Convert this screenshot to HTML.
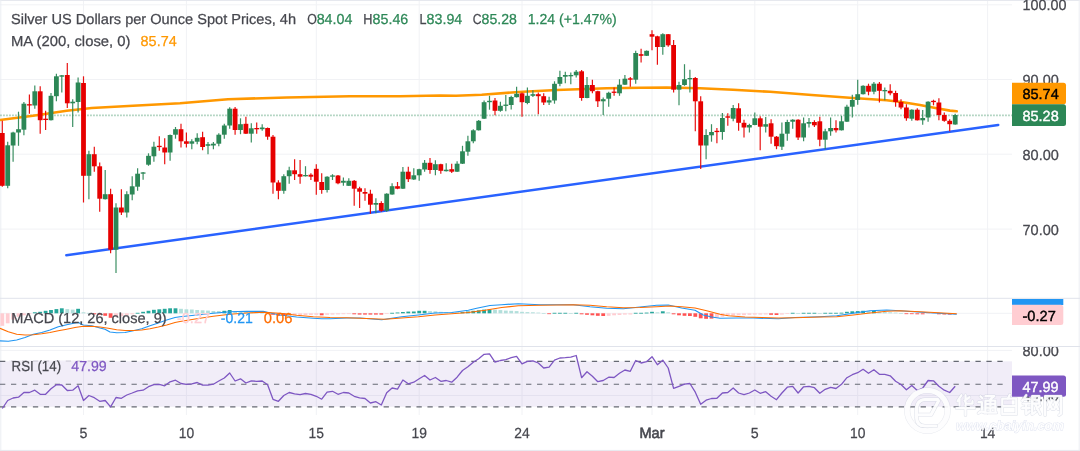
<!DOCTYPE html>
<html><head><meta charset="utf-8"><title>Silver chart</title>
<style>html,body{margin:0;padding:0;background:#fff;}body{width:1080px;height:451px;overflow:hidden;font-family:"Liberation Sans", sans-serif;}svg{display:block;will-change:transform;text-rendering:geometricPrecision;}text{font-family:"Liberation Sans", sans-serif;}</style>
</head><body>
<svg width="1080" height="451" viewBox="0 0 1080 451">
<rect x="0" y="0" width="1080" height="451" fill="#ffffff"/>
<g stroke="#f1f2f5" stroke-width="1" fill="none">
<line x1="83.5" y1="1" x2="83.5" y2="415"/>
<line x1="186.4" y1="1" x2="186.4" y2="415"/>
<line x1="316.3" y1="1" x2="316.3" y2="415"/>
<line x1="419.2" y1="1" x2="419.2" y2="415"/>
<line x1="522.0" y1="1" x2="522.0" y2="415"/>
<line x1="652.0" y1="1" x2="652.0" y2="415"/>
<line x1="754.8" y1="1" x2="754.8" y2="415"/>
<line x1="857.7" y1="1" x2="857.7" y2="415"/>
<line x1="987.6" y1="1" x2="987.6" y2="415"/>
<line x1="0" y1="4.8" x2="1012" y2="4.8"/>
<line x1="0" y1="79.5" x2="1012" y2="79.5"/>
<line x1="0" y1="154.2" x2="1012" y2="154.2"/>
<line x1="0" y1="229.1" x2="1012" y2="229.1"/>
<line x1="0" y1="313.3" x2="1012" y2="313.3"/>
<line x1="0" y1="350.4" x2="1012" y2="350.4"/>
<line x1="0" y1="395.5" x2="1012" y2="395.5"/>
</g>
<g stroke="#e0e3eb" stroke-width="1" fill="none">
<line x1="0" y1="0.5" x2="1080" y2="0.5" stroke="#e6e8ee"/>
<line x1="0.8" y1="0" x2="0.8" y2="451" stroke="#eceef3"/>
<line x1="1079.2" y1="0" x2="1079.2" y2="451" stroke="#eceef3"/>
<line x1="0" y1="298.3" x2="1080" y2="298.3"/>
<line x1="0" y1="346.5" x2="1080" y2="346.5"/>
<line x1="0" y1="450.4" x2="1080" y2="450.4" stroke="#e6e8ee"/>
</g>
<rect x="0" y="361.3" width="1012" height="45.5" fill="#7e57c2" fill-opacity="0.11"/>
<g stroke="#666973" stroke-width="1.15" stroke-dasharray="5.3 5.66" fill="none">
<line x1="0" y1="361.3" x2="1008" y2="361.3"/>
<line x1="0" y1="384.2" x2="1008" y2="384.2"/>
<line x1="0" y1="406.8" x2="1008" y2="406.8"/>
</g>
<line x1="0.16" y1="115.3" x2="1012" y2="115.3" stroke="#2c8756" stroke-opacity="0.42" stroke-width="1.7" stroke-dasharray="1.6 1.4"/>
<line x1="66.4" y1="255.2" x2="998.2" y2="125.0" stroke="#2962ff" stroke-width="2.6" stroke-linecap="round"/>
<path d="M0.0 120.0 L33.0 115.8 L66.7 110.8 L91.7 108.0 L133.0 105.8 L180.0 103.2 L228.0 99.2 L286.7 97.5 L350.0 96.3 L400.0 96.2 L440.0 95.5 L456.0 95.8 L481.7 94.7 L523.0 91.7 L556.7 90.0 L578.0 89.2 L606.7 88.2 L640.0 87.8 L666.7 87.5 L700.0 88.3 L733.0 89.7 L770.0 91.8 L811.7 95.0 L853.0 98.0 L886.7 100.3 L903.0 102.3 L920.0 105.0 L936.7 108.3 L950.0 110.6 L956.7 111.3" fill="none" stroke="#ff9800" stroke-width="2.6" stroke-linejoin="round" stroke-linecap="round"/>
<g stroke="#2c8756" stroke-width="1.2" stroke-opacity="0.93"><line x1="7.7" y1="141.7" x2="7.7" y2="188.3"/><line x1="13.1" y1="131.7" x2="13.1" y2="161.7"/><line x1="18.5" y1="111.7" x2="18.5" y2="145.8"/><line x1="23.9" y1="102.0" x2="23.9" y2="135.3"/><line x1="34.8" y1="85.5" x2="34.8" y2="108.7"/><line x1="51.0" y1="93.0" x2="51.0" y2="120.5"/><line x1="56.4" y1="73.7" x2="56.4" y2="101.3"/><line x1="61.8" y1="75.0" x2="61.8" y2="92.5"/><line x1="72.7" y1="99.2" x2="72.7" y2="127.0"/><line x1="78.1" y1="77.5" x2="78.1" y2="112.5"/><line x1="88.9" y1="150.8" x2="88.9" y2="199.2"/><line x1="105.2" y1="170.0" x2="105.2" y2="199.5"/><line x1="116.0" y1="203.3" x2="116.0" y2="273.0"/><line x1="126.8" y1="191.3" x2="126.8" y2="217.5"/><line x1="132.2" y1="176.3" x2="132.2" y2="200.3"/><line x1="137.6" y1="168.3" x2="137.6" y2="190.8"/><line x1="143.1" y1="172.0" x2="143.1" y2="179.7"/><line x1="148.5" y1="153.3" x2="148.5" y2="165.8"/><line x1="153.9" y1="141.7" x2="153.9" y2="161.7"/><line x1="170.1" y1="134.5" x2="170.1" y2="160.8"/><line x1="175.5" y1="127.0" x2="175.5" y2="138.7"/><line x1="191.8" y1="139.2" x2="191.8" y2="149.2"/><line x1="197.2" y1="133.3" x2="197.2" y2="144.2"/><line x1="208.0" y1="142.0" x2="208.0" y2="154.2"/><line x1="213.4" y1="142.0" x2="213.4" y2="149.2"/><line x1="218.8" y1="133.3" x2="218.8" y2="146.3"/><line x1="224.3" y1="123.8" x2="224.3" y2="138.7"/><line x1="229.7" y1="107.2" x2="229.7" y2="128.7"/><line x1="240.5" y1="118.3" x2="240.5" y2="134.2"/><line x1="251.3" y1="123.3" x2="251.3" y2="142.5"/><line x1="262.2" y1="124.2" x2="262.2" y2="130.8"/><line x1="283.8" y1="174.2" x2="283.8" y2="193.7"/><line x1="289.2" y1="166.7" x2="289.2" y2="183.8"/><line x1="305.5" y1="166.2" x2="305.5" y2="176.5"/><line x1="327.1" y1="176.3" x2="327.1" y2="192.5"/><line x1="332.5" y1="174.2" x2="332.5" y2="180.0"/><line x1="343.4" y1="177.5" x2="343.4" y2="185.8"/><line x1="348.8" y1="178.3" x2="348.8" y2="186.0"/><line x1="375.9" y1="198.3" x2="375.9" y2="213.3"/><line x1="386.7" y1="193.3" x2="386.7" y2="211.7"/><line x1="392.1" y1="183.3" x2="392.1" y2="194.7"/><line x1="402.9" y1="167.0" x2="402.9" y2="189.0"/><line x1="413.8" y1="168.3" x2="413.8" y2="180.0"/><line x1="419.2" y1="168.8" x2="419.2" y2="180.8"/><line x1="424.6" y1="160.0" x2="424.6" y2="171.7"/><line x1="435.4" y1="160.3" x2="435.4" y2="175.3"/><line x1="446.2" y1="163.3" x2="446.2" y2="171.5"/><line x1="457.1" y1="161.2" x2="457.1" y2="172.0"/><line x1="462.5" y1="145.8" x2="462.5" y2="164.0"/><line x1="467.9" y1="135.8" x2="467.9" y2="155.8"/><line x1="473.3" y1="129.2" x2="473.3" y2="143.3"/><line x1="478.7" y1="120.0" x2="478.7" y2="130.5"/><line x1="484.1" y1="100.5" x2="484.1" y2="119.0"/><line x1="489.5" y1="95.8" x2="489.5" y2="109.7"/><line x1="500.4" y1="101.7" x2="500.4" y2="111.7"/><line x1="505.8" y1="95.0" x2="505.8" y2="111.3"/><line x1="511.2" y1="95.8" x2="511.2" y2="109.5"/><line x1="516.6" y1="86.7" x2="516.6" y2="97.5"/><line x1="527.4" y1="87.5" x2="527.4" y2="104.2"/><line x1="532.9" y1="90.3" x2="532.9" y2="97.0"/><line x1="549.1" y1="96.7" x2="549.1" y2="105.0"/><line x1="554.5" y1="81.3" x2="554.5" y2="103.7"/><line x1="559.9" y1="70.8" x2="559.9" y2="86.3"/><line x1="565.3" y1="71.7" x2="565.3" y2="83.3"/><line x1="570.8" y1="72.5" x2="570.8" y2="84.2"/><line x1="576.2" y1="70.0" x2="576.2" y2="77.5"/><line x1="587.0" y1="77.0" x2="587.0" y2="98.3"/><line x1="603.2" y1="97.5" x2="603.2" y2="115.0"/><line x1="608.7" y1="91.7" x2="608.7" y2="106.7"/><line x1="619.5" y1="79.2" x2="619.5" y2="95.8"/><line x1="624.9" y1="75.0" x2="624.9" y2="85.0"/><line x1="635.7" y1="50.8" x2="635.7" y2="83.7"/><line x1="646.6" y1="50.5" x2="646.6" y2="56.0"/><line x1="662.8" y1="33.3" x2="662.8" y2="54.7"/><line x1="679.0" y1="81.7" x2="679.0" y2="105.3"/><line x1="684.5" y1="64.2" x2="684.5" y2="85.8"/><line x1="689.9" y1="69.7" x2="689.9" y2="92.5"/><line x1="706.1" y1="129.2" x2="706.1" y2="159.2"/><line x1="711.5" y1="124.2" x2="711.5" y2="141.7"/><line x1="722.4" y1="113.0" x2="722.4" y2="139.7"/><line x1="733.2" y1="105.0" x2="733.2" y2="121.3"/><line x1="749.4" y1="123.7" x2="749.4" y2="132.5"/><line x1="754.8" y1="112.5" x2="754.8" y2="125.3"/><line x1="765.7" y1="117.0" x2="765.7" y2="132.5"/><line x1="781.9" y1="122.5" x2="781.9" y2="150.0"/><line x1="787.3" y1="119.7" x2="787.3" y2="140.8"/><line x1="792.7" y1="119.3" x2="792.7" y2="128.7"/><line x1="803.6" y1="117.5" x2="803.6" y2="141.3"/><line x1="809.0" y1="118.0" x2="809.0" y2="127.5"/><line x1="825.2" y1="128.7" x2="825.2" y2="149.2"/><line x1="830.6" y1="117.5" x2="830.6" y2="135.8"/><line x1="841.5" y1="115.8" x2="841.5" y2="130.5"/><line x1="846.9" y1="104.7" x2="846.9" y2="122.0"/><line x1="852.3" y1="94.7" x2="852.3" y2="117.5"/><line x1="857.7" y1="79.7" x2="857.7" y2="104.7"/><line x1="863.1" y1="85.3" x2="863.1" y2="94.5"/><line x1="873.9" y1="82.0" x2="873.9" y2="94.2"/><line x1="884.8" y1="87.5" x2="884.8" y2="100.3"/><line x1="911.8" y1="109.2" x2="911.8" y2="120.8"/><line x1="922.7" y1="110.0" x2="922.7" y2="124.7"/><line x1="928.1" y1="101.3" x2="928.1" y2="121.7"/><line x1="955.2" y1="113.7" x2="955.2" y2="124.7"/></g>
<g stroke="#e60000" stroke-width="1.2" stroke-opacity="0.93"><line x1="2.3" y1="120.8" x2="2.3" y2="186.7"/><line x1="29.4" y1="94.5" x2="29.4" y2="113.7"/><line x1="40.2" y1="86.2" x2="40.2" y2="133.7"/><line x1="45.6" y1="110.8" x2="45.6" y2="130.0"/><line x1="67.3" y1="63.0" x2="67.3" y2="108.0"/><line x1="83.5" y1="76.3" x2="83.5" y2="202.5"/><line x1="94.3" y1="146.7" x2="94.3" y2="171.7"/><line x1="99.7" y1="162.5" x2="99.7" y2="211.7"/><line x1="110.6" y1="188.7" x2="110.6" y2="253.3"/><line x1="121.4" y1="189.2" x2="121.4" y2="215.0"/><line x1="159.3" y1="136.3" x2="159.3" y2="150.8"/><line x1="164.7" y1="138.3" x2="164.7" y2="164.2"/><line x1="181.0" y1="123.8" x2="181.0" y2="147.5"/><line x1="186.4" y1="132.5" x2="186.4" y2="147.5"/><line x1="202.6" y1="131.7" x2="202.6" y2="150.3"/><line x1="235.1" y1="107.0" x2="235.1" y2="134.7"/><line x1="245.9" y1="116.7" x2="245.9" y2="134.0"/><line x1="256.7" y1="122.5" x2="256.7" y2="133.7"/><line x1="267.6" y1="127.5" x2="267.6" y2="139.7"/><line x1="273.0" y1="135.0" x2="273.0" y2="193.7"/><line x1="278.4" y1="180.3" x2="278.4" y2="199.2"/><line x1="294.6" y1="159.2" x2="294.6" y2="180.0"/><line x1="300.1" y1="160.0" x2="300.1" y2="183.8"/><line x1="310.9" y1="173.3" x2="310.9" y2="180.0"/><line x1="316.3" y1="164.2" x2="316.3" y2="194.7"/><line x1="321.7" y1="173.3" x2="321.7" y2="193.7"/><line x1="338.0" y1="175.0" x2="338.0" y2="184.2"/><line x1="354.2" y1="180.0" x2="354.2" y2="205.8"/><line x1="359.6" y1="186.7" x2="359.6" y2="208.0"/><line x1="365.0" y1="188.3" x2="365.0" y2="200.8"/><line x1="370.4" y1="189.7" x2="370.4" y2="213.7"/><line x1="381.3" y1="201.3" x2="381.3" y2="211.7"/><line x1="397.5" y1="182.0" x2="397.5" y2="189.2"/><line x1="408.3" y1="166.7" x2="408.3" y2="182.0"/><line x1="430.0" y1="158.0" x2="430.0" y2="173.7"/><line x1="440.8" y1="163.7" x2="440.8" y2="173.8"/><line x1="451.7" y1="163.7" x2="451.7" y2="173.0"/><line x1="495.0" y1="98.0" x2="495.0" y2="115.3"/><line x1="522.0" y1="92.5" x2="522.0" y2="116.7"/><line x1="538.3" y1="92.5" x2="538.3" y2="114.2"/><line x1="543.7" y1="93.3" x2="543.7" y2="105.0"/><line x1="581.6" y1="70.0" x2="581.6" y2="100.8"/><line x1="592.4" y1="79.7" x2="592.4" y2="93.3"/><line x1="597.8" y1="90.8" x2="597.8" y2="107.0"/><line x1="614.1" y1="87.5" x2="614.1" y2="95.8"/><line x1="630.3" y1="77.0" x2="630.3" y2="86.7"/><line x1="641.1" y1="48.7" x2="641.1" y2="62.5"/><line x1="652.0" y1="30.3" x2="652.0" y2="50.3"/><line x1="657.4" y1="35.8" x2="657.4" y2="64.7"/><line x1="668.2" y1="34.0" x2="668.2" y2="46.7"/><line x1="673.6" y1="40.0" x2="673.6" y2="92.5"/><line x1="695.3" y1="77.0" x2="695.3" y2="131.3"/><line x1="700.7" y1="96.3" x2="700.7" y2="169.0"/><line x1="716.9" y1="128.0" x2="716.9" y2="143.3"/><line x1="727.8" y1="113.3" x2="727.8" y2="125.8"/><line x1="738.6" y1="103.3" x2="738.6" y2="130.8"/><line x1="744.0" y1="119.7" x2="744.0" y2="137.5"/><line x1="760.2" y1="116.3" x2="760.2" y2="150.3"/><line x1="771.1" y1="119.2" x2="771.1" y2="143.7"/><line x1="776.5" y1="136.0" x2="776.5" y2="149.2"/><line x1="798.1" y1="119.3" x2="798.1" y2="140.0"/><line x1="814.4" y1="120.3" x2="814.4" y2="127.0"/><line x1="819.8" y1="116.7" x2="819.8" y2="146.3"/><line x1="836.0" y1="120.3" x2="836.0" y2="132.5"/><line x1="868.5" y1="83.7" x2="868.5" y2="95.3"/><line x1="879.4" y1="82.0" x2="879.4" y2="102.5"/><line x1="890.2" y1="84.2" x2="890.2" y2="95.3"/><line x1="895.6" y1="90.8" x2="895.6" y2="106.7"/><line x1="901.0" y1="99.2" x2="901.0" y2="109.2"/><line x1="906.4" y1="104.2" x2="906.4" y2="120.8"/><line x1="917.3" y1="108.3" x2="917.3" y2="120.5"/><line x1="933.5" y1="99.7" x2="933.5" y2="105.3"/><line x1="938.9" y1="98.3" x2="938.9" y2="120.3"/><line x1="944.3" y1="112.5" x2="944.3" y2="121.7"/><line x1="949.7" y1="119.2" x2="949.7" y2="131.3"/></g>
<g fill="#2c8756"><rect x="5.3" y="145.3" width="4.8" height="40.5"/><rect x="10.7" y="132.5" width="4.8" height="13.0"/><rect x="16.1" y="129.2" width="4.8" height="3.3"/><rect x="21.5" y="103.7" width="4.8" height="26.0"/><rect x="32.4" y="91.3" width="4.8" height="14.2"/><rect x="48.6" y="95.8" width="4.8" height="24.4"/><rect x="54.0" y="76.3" width="4.8" height="19.9"/><rect x="59.4" y="75.3" width="4.8" height="1.4"/><rect x="70.3" y="101.7" width="4.8" height="1.6"/><rect x="75.7" y="82.5" width="4.8" height="19.5"/><rect x="86.5" y="154.2" width="4.8" height="21.6"/><rect x="102.8" y="194.2" width="4.8" height="5.0"/><rect x="113.6" y="207.5" width="4.8" height="42.2"/><rect x="124.4" y="194.2" width="4.8" height="18.3"/><rect x="129.8" y="186.3" width="4.8" height="8.2"/><rect x="135.2" y="173.7" width="4.8" height="13.0"/><rect x="140.7" y="172.4" width="4.8" height="1.3"/><rect x="146.1" y="155.8" width="4.8" height="8.9"/><rect x="151.5" y="146.7" width="4.8" height="9.6"/><rect x="167.7" y="135.0" width="4.8" height="17.5"/><rect x="173.1" y="129.2" width="4.8" height="5.5"/><rect x="189.4" y="141.3" width="4.8" height="2.4"/><rect x="194.8" y="137.8" width="4.8" height="3.9"/><rect x="205.6" y="144.2" width="4.8" height="1.6"/><rect x="211.0" y="143.7" width="4.8" height="1.8"/><rect x="216.4" y="134.7" width="4.8" height="9.0"/><rect x="221.9" y="125.5" width="4.8" height="9.2"/><rect x="227.3" y="108.7" width="4.8" height="16.8"/><rect x="238.1" y="124.2" width="4.8" height="5.8"/><rect x="248.9" y="128.3" width="4.8" height="5.4"/><rect x="259.8" y="127.5" width="4.8" height="1.7"/><rect x="281.4" y="176.2" width="4.8" height="14.6"/><rect x="286.8" y="170.3" width="4.8" height="5.9"/><rect x="303.1" y="175.0" width="4.8" height="1.3"/><rect x="324.7" y="176.7" width="4.8" height="13.3"/><rect x="330.1" y="175.4" width="4.8" height="1.3"/><rect x="341.0" y="180.8" width="4.8" height="1.9"/><rect x="346.4" y="180.8" width="4.8" height="5.0"/><rect x="373.5" y="203.0" width="4.8" height="1.7"/><rect x="384.3" y="193.7" width="4.8" height="17.1"/><rect x="389.7" y="186.2" width="4.8" height="8.3"/><rect x="400.5" y="171.7" width="4.8" height="17.0"/><rect x="411.4" y="175.3" width="4.8" height="4.2"/><rect x="416.8" y="169.2" width="4.8" height="6.1"/><rect x="422.2" y="162.8" width="4.8" height="6.7"/><rect x="433.0" y="164.2" width="4.8" height="5.8"/><rect x="443.8" y="169.7" width="4.8" height="1.5"/><rect x="454.7" y="163.7" width="4.8" height="8.0"/><rect x="460.1" y="151.3" width="4.8" height="12.4"/><rect x="465.5" y="141.3" width="4.8" height="10.4"/><rect x="470.9" y="130.3" width="4.8" height="11.0"/><rect x="476.3" y="120.8" width="4.8" height="9.5"/><rect x="481.7" y="102.2" width="4.8" height="16.5"/><rect x="487.1" y="100.8" width="4.8" height="1.4"/><rect x="498.0" y="105.8" width="4.8" height="5.0"/><rect x="503.4" y="104.6" width="4.8" height="1.3"/><rect x="508.8" y="97.0" width="4.8" height="8.0"/><rect x="514.2" y="93.8" width="4.8" height="3.4"/><rect x="525.0" y="95.8" width="4.8" height="7.2"/><rect x="530.5" y="94.2" width="4.8" height="1.6"/><rect x="546.7" y="100.3" width="4.8" height="2.2"/><rect x="552.1" y="83.8" width="4.8" height="16.7"/><rect x="557.5" y="77.0" width="4.8" height="6.8"/><rect x="562.9" y="75.0" width="4.8" height="1.7"/><rect x="568.4" y="75.0" width="4.8" height="1.3"/><rect x="573.8" y="71.7" width="4.8" height="3.6"/><rect x="584.6" y="85.0" width="4.8" height="13.0"/><rect x="600.8" y="99.2" width="4.8" height="2.1"/><rect x="606.3" y="92.8" width="4.8" height="5.9"/><rect x="617.1" y="84.7" width="4.8" height="8.6"/><rect x="622.5" y="78.7" width="4.8" height="6.0"/><rect x="633.3" y="53.0" width="4.8" height="26.7"/><rect x="644.2" y="50.8" width="4.8" height="5.0"/><rect x="660.4" y="34.2" width="4.8" height="12.8"/><rect x="676.6" y="85.0" width="4.8" height="4.7"/><rect x="682.1" y="79.2" width="4.8" height="5.8"/><rect x="687.5" y="78.0" width="4.8" height="1.3"/><rect x="703.7" y="135.0" width="4.8" height="10.5"/><rect x="709.1" y="132.0" width="4.8" height="3.3"/><rect x="720.0" y="118.0" width="4.8" height="14.0"/><rect x="730.8" y="108.0" width="4.8" height="10.7"/><rect x="747.0" y="125.0" width="4.8" height="2.5"/><rect x="752.4" y="118.3" width="4.8" height="6.7"/><rect x="763.3" y="124.2" width="4.8" height="2.5"/><rect x="779.5" y="133.7" width="4.8" height="13.0"/><rect x="784.9" y="122.0" width="4.8" height="11.7"/><rect x="790.3" y="119.7" width="4.8" height="2.0"/><rect x="801.2" y="123.3" width="4.8" height="14.2"/><rect x="806.6" y="122.0" width="4.8" height="1.7"/><rect x="822.8" y="131.3" width="4.8" height="8.4"/><rect x="828.2" y="128.0" width="4.8" height="3.3"/><rect x="839.1" y="121.3" width="4.8" height="9.0"/><rect x="844.5" y="106.7" width="4.8" height="15.0"/><rect x="849.9" y="100.0" width="4.8" height="6.7"/><rect x="855.3" y="94.2" width="4.8" height="5.8"/><rect x="860.7" y="85.8" width="4.8" height="8.4"/><rect x="871.5" y="83.7" width="4.8" height="8.0"/><rect x="882.4" y="90.0" width="4.8" height="1.3"/><rect x="909.4" y="109.7" width="4.8" height="9.0"/><rect x="920.3" y="118.0" width="4.8" height="2.3"/><rect x="925.7" y="101.7" width="4.8" height="15.8"/><rect x="952.8" y="115.0" width="4.8" height="9.5"/></g>
<g fill="#e60000"><rect x="-0.1" y="133.0" width="4.8" height="52.8"/><rect x="27.0" y="104.2" width="4.8" height="1.3"/><rect x="37.8" y="91.3" width="4.8" height="28.9"/><rect x="43.2" y="118.7" width="4.8" height="1.3"/><rect x="64.9" y="75.0" width="4.8" height="28.3"/><rect x="81.1" y="83.0" width="4.8" height="92.8"/><rect x="91.9" y="154.2" width="4.8" height="12.1"/><rect x="97.3" y="166.3" width="4.8" height="32.4"/><rect x="108.2" y="194.2" width="4.8" height="55.5"/><rect x="119.0" y="207.5" width="4.8" height="5.0"/><rect x="156.9" y="145.8" width="4.8" height="1.3"/><rect x="162.3" y="147.5" width="4.8" height="5.0"/><rect x="178.6" y="129.2" width="4.8" height="12.1"/><rect x="184.0" y="141.3" width="4.8" height="2.5"/><rect x="200.2" y="137.2" width="4.8" height="9.8"/><rect x="232.7" y="108.7" width="4.8" height="21.3"/><rect x="243.5" y="123.8" width="4.8" height="9.9"/><rect x="254.3" y="128.0" width="4.8" height="1.3"/><rect x="265.2" y="128.0" width="4.8" height="8.7"/><rect x="270.6" y="136.7" width="4.8" height="45.8"/><rect x="276.0" y="182.5" width="4.8" height="8.3"/><rect x="292.2" y="170.3" width="4.8" height="3.9"/><rect x="297.7" y="174.2" width="4.8" height="2.5"/><rect x="308.5" y="174.7" width="4.8" height="2.0"/><rect x="313.9" y="168.8" width="4.8" height="12.9"/><rect x="319.3" y="182.0" width="4.8" height="8.0"/><rect x="335.6" y="175.5" width="4.8" height="7.8"/><rect x="351.8" y="180.8" width="4.8" height="7.9"/><rect x="357.2" y="188.3" width="4.8" height="3.4"/><rect x="362.6" y="192.0" width="4.8" height="1.7"/><rect x="368.0" y="193.7" width="4.8" height="11.0"/><rect x="378.9" y="203.0" width="4.8" height="7.8"/><rect x="395.1" y="186.2" width="4.8" height="2.5"/><rect x="405.9" y="171.7" width="4.8" height="7.5"/><rect x="427.6" y="162.8" width="4.8" height="7.2"/><rect x="438.4" y="164.2" width="4.8" height="6.6"/><rect x="449.3" y="169.2" width="4.8" height="2.5"/><rect x="492.6" y="100.5" width="4.8" height="10.3"/><rect x="519.6" y="93.3" width="4.8" height="8.9"/><rect x="535.9" y="94.2" width="4.8" height="2.0"/><rect x="541.3" y="96.2" width="4.8" height="6.3"/><rect x="579.2" y="71.3" width="4.8" height="26.7"/><rect x="590.0" y="85.0" width="4.8" height="6.2"/><rect x="595.4" y="91.2" width="4.8" height="10.1"/><rect x="611.7" y="91.6" width="4.8" height="1.3"/><rect x="627.9" y="78.3" width="4.8" height="1.4"/><rect x="638.7" y="54.2" width="4.8" height="1.6"/><rect x="649.6" y="34.2" width="4.8" height="2.5"/><rect x="655.0" y="36.3" width="4.8" height="10.7"/><rect x="665.8" y="34.2" width="4.8" height="11.1"/><rect x="671.2" y="45.0" width="4.8" height="44.7"/><rect x="692.9" y="78.0" width="4.8" height="23.3"/><rect x="698.3" y="101.3" width="4.8" height="44.2"/><rect x="714.5" y="130.8" width="4.8" height="1.3"/><rect x="725.4" y="116.3" width="4.8" height="1.4"/><rect x="736.2" y="108.3" width="4.8" height="14.5"/><rect x="741.6" y="122.8" width="4.8" height="4.7"/><rect x="757.9" y="118.3" width="4.8" height="8.4"/><rect x="768.7" y="123.3" width="4.8" height="13.4"/><rect x="774.1" y="136.7" width="4.8" height="9.5"/><rect x="795.7" y="119.7" width="4.8" height="17.8"/><rect x="812.0" y="122.0" width="4.8" height="3.3"/><rect x="817.4" y="121.3" width="4.8" height="18.4"/><rect x="833.6" y="128.0" width="4.8" height="2.3"/><rect x="866.1" y="85.8" width="4.8" height="5.9"/><rect x="877.0" y="83.7" width="4.8" height="7.1"/><rect x="887.8" y="90.8" width="4.8" height="2.5"/><rect x="893.2" y="93.0" width="4.8" height="9.0"/><rect x="898.6" y="102.0" width="4.8" height="5.5"/><rect x="904.0" y="107.5" width="4.8" height="10.8"/><rect x="914.9" y="109.7" width="4.8" height="10.6"/><rect x="931.1" y="100.8" width="4.8" height="1.3"/><rect x="936.5" y="102.5" width="4.8" height="12.5"/><rect x="941.9" y="115.0" width="4.8" height="5.8"/><rect x="947.3" y="120.8" width="4.8" height="3.4"/></g>
<rect x="0.4" y="313.30" width="3.8" height="12.50" fill="#ffcdd2"/>
<rect x="5.8" y="313.30" width="3.8" height="10.00" fill="#ffcdd2"/>
<rect x="11.2" y="313.30" width="3.8" height="6.30" fill="#ffcdd2"/>
<rect x="16.6" y="313.30" width="3.8" height="3.50" fill="#ffcdd2"/>
<rect x="22.0" y="313.30" width="3.8" height="2.00" fill="#ffcdd2"/>
<rect x="27.5" y="313.30" width="3.8" height="1.00" fill="#ffcdd2"/>
<rect x="32.9" y="312.30" width="3.8" height="1.00" fill="#26a69a"/>
<rect x="38.3" y="311.80" width="3.8" height="1.50" fill="#26a69a"/>
<rect x="43.7" y="310.80" width="3.8" height="2.50" fill="#26a69a"/>
<rect x="49.1" y="310.00" width="3.8" height="3.30" fill="#26a69a"/>
<rect x="54.5" y="309.10" width="3.8" height="4.20" fill="#26a69a"/>
<rect x="59.9" y="308.30" width="3.8" height="5.00" fill="#26a69a"/>
<rect x="65.4" y="309.10" width="3.8" height="4.20" fill="#b2dfdb"/>
<rect x="70.8" y="309.60" width="3.8" height="3.70" fill="#b2dfdb"/>
<rect x="76.2" y="308.80" width="3.8" height="4.50" fill="#26a69a"/>
<rect x="81.6" y="312.30" width="3.8" height="1.00" fill="#b2dfdb"/>
<rect x="87.0" y="312.90" width="3.8" height="0.70" fill="#b2dfdb"/>
<rect x="92.4" y="313.30" width="3.8" height="1.00" fill="#ff5252"/>
<rect x="97.8" y="313.30" width="3.8" height="1.50" fill="#ff5252"/>
<rect x="103.3" y="313.30" width="3.8" height="2.50" fill="#ff5252"/>
<rect x="108.7" y="313.30" width="3.8" height="4.50" fill="#ff5252"/>
<rect x="114.1" y="313.30" width="3.8" height="3.50" fill="#ffcdd2"/>
<rect x="119.5" y="313.30" width="3.8" height="3.00" fill="#ffcdd2"/>
<rect x="124.9" y="313.30" width="3.8" height="2.00" fill="#ffcdd2"/>
<rect x="130.3" y="313.30" width="3.8" height="1.00" fill="#ffcdd2"/>
<rect x="135.7" y="312.80" width="3.8" height="0.85" fill="#26a69a"/>
<rect x="141.2" y="311.80" width="3.8" height="1.50" fill="#26a69a"/>
<rect x="146.6" y="310.80" width="3.8" height="2.50" fill="#26a69a"/>
<rect x="152.0" y="309.80" width="3.8" height="3.50" fill="#26a69a"/>
<rect x="157.4" y="309.30" width="3.8" height="4.00" fill="#26a69a"/>
<rect x="162.8" y="308.80" width="3.8" height="4.50" fill="#26a69a"/>
<rect x="168.2" y="308.30" width="3.8" height="5.00" fill="#26a69a"/>
<rect x="173.6" y="308.30" width="3.8" height="5.00" fill="#26a69a"/>
<rect x="179.1" y="308.80" width="3.8" height="4.50" fill="#b2dfdb"/>
<rect x="184.5" y="309.30" width="3.8" height="4.00" fill="#b2dfdb"/>
<rect x="189.9" y="309.50" width="3.8" height="3.80" fill="#b2dfdb"/>
<rect x="195.3" y="310.00" width="3.8" height="3.30" fill="#b2dfdb"/>
<rect x="200.7" y="310.30" width="3.8" height="3.00" fill="#b2dfdb"/>
<rect x="206.1" y="310.60" width="3.8" height="2.70" fill="#b2dfdb"/>
<rect x="211.5" y="311.00" width="3.8" height="2.30" fill="#b2dfdb"/>
<rect x="216.9" y="311.00" width="3.8" height="2.30" fill="#b2dfdb"/>
<rect x="222.4" y="310.80" width="3.8" height="2.50" fill="#26a69a"/>
<rect x="227.8" y="310.00" width="3.8" height="3.30" fill="#26a69a"/>
<rect x="233.2" y="311.30" width="3.8" height="2.00" fill="#b2dfdb"/>
<rect x="238.6" y="311.60" width="3.8" height="1.70" fill="#b2dfdb"/>
<rect x="244.0" y="311.90" width="3.8" height="1.40" fill="#b2dfdb"/>
<rect x="249.4" y="312.20" width="3.8" height="1.10" fill="#b2dfdb"/>
<rect x="254.8" y="312.50" width="3.8" height="0.80" fill="#b2dfdb"/>
<rect x="260.3" y="312.80" width="3.8" height="0.70" fill="#b2dfdb"/>
<rect x="265.7" y="313.00" width="3.8" height="0.70" fill="#b2dfdb"/>
<rect x="271.1" y="313.30" width="3.8" height="1.50" fill="#ff5252"/>
<rect x="276.5" y="313.30" width="3.8" height="2.50" fill="#ff5252"/>
<rect x="281.9" y="313.30" width="3.8" height="2.50" fill="#ff5252"/>
<rect x="287.3" y="313.30" width="3.8" height="2.00" fill="#ffcdd2"/>
<rect x="292.7" y="313.30" width="3.8" height="1.90" fill="#ffcdd2"/>
<rect x="298.2" y="313.30" width="3.8" height="1.80" fill="#ffcdd2"/>
<rect x="303.6" y="313.30" width="3.8" height="1.70" fill="#ffcdd2"/>
<rect x="309.0" y="313.30" width="3.8" height="1.60" fill="#ffcdd2"/>
<rect x="314.4" y="313.30" width="3.8" height="1.50" fill="#ffcdd2"/>
<rect x="319.8" y="313.30" width="3.8" height="2.00" fill="#ff5252"/>
<rect x="325.2" y="313.30" width="3.8" height="1.50" fill="#ffcdd2"/>
<rect x="330.6" y="313.30" width="3.8" height="1.30" fill="#ffcdd2"/>
<rect x="336.1" y="313.30" width="3.8" height="1.10" fill="#ffcdd2"/>
<rect x="341.5" y="313.30" width="3.8" height="0.90" fill="#ffcdd2"/>
<rect x="346.9" y="313.30" width="3.8" height="0.80" fill="#ffcdd2"/>
<rect x="352.3" y="313.30" width="3.8" height="1.00" fill="#ff5252"/>
<rect x="357.7" y="313.30" width="3.8" height="1.30" fill="#ff5252"/>
<rect x="363.1" y="313.30" width="3.8" height="1.30" fill="#ff5252"/>
<rect x="368.5" y="313.30" width="3.8" height="1.30" fill="#ff5252"/>
<rect x="374.0" y="313.30" width="3.8" height="1.30" fill="#ff5252"/>
<rect x="379.4" y="313.30" width="3.8" height="1.30" fill="#ff5252"/>
<rect x="384.8" y="313.30" width="3.8" height="0.70" fill="#ffcdd2"/>
<rect x="390.2" y="312.80" width="3.8" height="0.85" fill="#26a69a"/>
<rect x="395.6" y="312.50" width="3.8" height="0.85" fill="#26a69a"/>
<rect x="401.0" y="312.00" width="3.8" height="1.30" fill="#26a69a"/>
<rect x="406.4" y="311.60" width="3.8" height="1.70" fill="#26a69a"/>
<rect x="411.9" y="311.50" width="3.8" height="1.80" fill="#26a69a"/>
<rect x="417.3" y="310.80" width="3.8" height="2.50" fill="#26a69a"/>
<rect x="422.7" y="310.80" width="3.8" height="2.50" fill="#26a69a"/>
<rect x="428.1" y="311.10" width="3.8" height="2.20" fill="#b2dfdb"/>
<rect x="433.5" y="311.30" width="3.8" height="2.00" fill="#b2dfdb"/>
<rect x="438.9" y="311.80" width="3.8" height="1.50" fill="#b2dfdb"/>
<rect x="444.3" y="312.10" width="3.8" height="1.20" fill="#b2dfdb"/>
<rect x="449.8" y="312.30" width="3.8" height="1.00" fill="#b2dfdb"/>
<rect x="455.2" y="312.30" width="3.8" height="1.00" fill="#b2dfdb"/>
<rect x="460.6" y="312.10" width="3.8" height="1.20" fill="#26a69a"/>
<rect x="466.0" y="311.50" width="3.8" height="1.80" fill="#26a69a"/>
<rect x="471.4" y="310.80" width="3.8" height="2.50" fill="#26a69a"/>
<rect x="476.8" y="310.30" width="3.8" height="3.00" fill="#26a69a"/>
<rect x="482.2" y="309.60" width="3.8" height="3.70" fill="#26a69a"/>
<rect x="487.6" y="309.50" width="3.8" height="3.80" fill="#26a69a"/>
<rect x="493.1" y="309.60" width="3.8" height="3.70" fill="#b2dfdb"/>
<rect x="498.5" y="310.10" width="3.8" height="3.20" fill="#b2dfdb"/>
<rect x="503.9" y="310.60" width="3.8" height="2.70" fill="#b2dfdb"/>
<rect x="509.3" y="310.80" width="3.8" height="2.50" fill="#b2dfdb"/>
<rect x="514.7" y="311.10" width="3.8" height="2.20" fill="#b2dfdb"/>
<rect x="520.1" y="311.80" width="3.8" height="1.50" fill="#b2dfdb"/>
<rect x="525.5" y="312.10" width="3.8" height="1.20" fill="#b2dfdb"/>
<rect x="531.0" y="312.30" width="3.8" height="1.00" fill="#b2dfdb"/>
<rect x="536.4" y="312.60" width="3.8" height="0.70" fill="#b2dfdb"/>
<rect x="541.8" y="313.00" width="3.8" height="0.70" fill="#b2dfdb"/>
<rect x="547.2" y="313.30" width="3.8" height="0.85" fill="#ff5252"/>
<rect x="552.6" y="312.80" width="3.8" height="0.85" fill="#26a69a"/>
<rect x="558.0" y="312.80" width="3.8" height="0.85" fill="#26a69a"/>
<rect x="563.4" y="312.80" width="3.8" height="0.85" fill="#26a69a"/>
<rect x="568.9" y="313.00" width="3.8" height="0.70" fill="#b2dfdb"/>
<rect x="574.3" y="312.80" width="3.8" height="0.85" fill="#26a69a"/>
<rect x="579.7" y="313.30" width="3.8" height="1.00" fill="#ff5252"/>
<rect x="585.1" y="313.30" width="3.8" height="1.50" fill="#ff5252"/>
<rect x="590.5" y="313.30" width="3.8" height="2.00" fill="#ff5252"/>
<rect x="595.9" y="313.30" width="3.8" height="2.50" fill="#ff5252"/>
<rect x="601.3" y="313.30" width="3.8" height="2.70" fill="#ff5252"/>
<rect x="606.8" y="313.30" width="3.8" height="2.50" fill="#ffcdd2"/>
<rect x="612.2" y="313.30" width="3.8" height="2.00" fill="#ffcdd2"/>
<rect x="617.6" y="313.30" width="3.8" height="1.70" fill="#ffcdd2"/>
<rect x="623.0" y="313.30" width="3.8" height="1.30" fill="#ffcdd2"/>
<rect x="628.4" y="313.30" width="3.8" height="1.20" fill="#ffcdd2"/>
<rect x="633.8" y="312.80" width="3.8" height="0.85" fill="#26a69a"/>
<rect x="639.2" y="312.80" width="3.8" height="0.85" fill="#26a69a"/>
<rect x="644.7" y="312.60" width="3.8" height="0.85" fill="#26a69a"/>
<rect x="650.1" y="311.80" width="3.8" height="1.50" fill="#26a69a"/>
<rect x="655.5" y="312.30" width="3.8" height="1.00" fill="#b2dfdb"/>
<rect x="660.9" y="311.30" width="3.8" height="2.00" fill="#26a69a"/>
<rect x="666.3" y="312.30" width="3.8" height="1.00" fill="#b2dfdb"/>
<rect x="671.7" y="313.30" width="3.8" height="1.00" fill="#ff5252"/>
<rect x="677.1" y="313.30" width="3.8" height="2.00" fill="#ff5252"/>
<rect x="682.6" y="313.30" width="3.8" height="2.50" fill="#ff5252"/>
<rect x="688.0" y="313.30" width="3.8" height="2.70" fill="#ff5252"/>
<rect x="693.4" y="313.30" width="3.8" height="3.50" fill="#ff5252"/>
<rect x="698.8" y="313.30" width="3.8" height="5.00" fill="#ff5252"/>
<rect x="704.2" y="313.30" width="3.8" height="5.50" fill="#ff5252"/>
<rect x="709.6" y="313.30" width="3.8" height="5.30" fill="#ff5252"/>
<rect x="715.0" y="313.30" width="3.8" height="4.50" fill="#ffcdd2"/>
<rect x="720.5" y="313.30" width="3.8" height="3.50" fill="#ffcdd2"/>
<rect x="725.9" y="313.30" width="3.8" height="2.50" fill="#ffcdd2"/>
<rect x="731.3" y="313.30" width="3.8" height="2.20" fill="#ffcdd2"/>
<rect x="736.7" y="313.30" width="3.8" height="2.00" fill="#ffcdd2"/>
<rect x="742.1" y="313.30" width="3.8" height="1.80" fill="#ffcdd2"/>
<rect x="747.5" y="313.30" width="3.8" height="1.50" fill="#ffcdd2"/>
<rect x="752.9" y="313.30" width="3.8" height="1.30" fill="#ffcdd2"/>
<rect x="758.4" y="313.30" width="3.8" height="1.30" fill="#ffcdd2"/>
<rect x="763.8" y="313.30" width="3.8" height="1.20" fill="#ffcdd2"/>
<rect x="769.2" y="313.30" width="3.8" height="1.50" fill="#ff5252"/>
<rect x="774.6" y="313.30" width="3.8" height="1.70" fill="#ff5252"/>
<rect x="780.0" y="313.30" width="3.8" height="1.30" fill="#ffcdd2"/>
<rect x="785.4" y="313.30" width="3.8" height="0.70" fill="#ffcdd2"/>
<rect x="790.8" y="312.80" width="3.8" height="0.85" fill="#26a69a"/>
<rect x="796.2" y="313.00" width="3.8" height="0.70" fill="#b2dfdb"/>
<rect x="801.7" y="312.80" width="3.8" height="0.85" fill="#26a69a"/>
<rect x="807.1" y="312.80" width="3.8" height="0.85" fill="#26a69a"/>
<rect x="812.5" y="312.80" width="3.8" height="0.85" fill="#26a69a"/>
<rect x="817.9" y="313.00" width="3.8" height="0.70" fill="#b2dfdb"/>
<rect x="823.3" y="312.80" width="3.8" height="0.85" fill="#26a69a"/>
<rect x="828.7" y="312.80" width="3.8" height="0.85" fill="#26a69a"/>
<rect x="834.1" y="312.80" width="3.8" height="0.85" fill="#26a69a"/>
<rect x="839.6" y="312.70" width="3.8" height="0.85" fill="#26a69a"/>
<rect x="845.0" y="311.80" width="3.8" height="1.50" fill="#26a69a"/>
<rect x="850.4" y="311.30" width="3.8" height="2.00" fill="#26a69a"/>
<rect x="855.8" y="311.10" width="3.8" height="2.20" fill="#26a69a"/>
<rect x="861.2" y="310.80" width="3.8" height="2.50" fill="#26a69a"/>
<rect x="866.6" y="311.10" width="3.8" height="2.20" fill="#b2dfdb"/>
<rect x="872.0" y="311.00" width="3.8" height="2.30" fill="#26a69a"/>
<rect x="877.5" y="311.50" width="3.8" height="1.80" fill="#b2dfdb"/>
<rect x="882.9" y="312.00" width="3.8" height="1.30" fill="#b2dfdb"/>
<rect x="888.3" y="312.30" width="3.8" height="1.00" fill="#b2dfdb"/>
<rect x="893.7" y="312.60" width="3.8" height="0.70" fill="#b2dfdb"/>
<rect x="899.1" y="313.00" width="3.8" height="0.70" fill="#b2dfdb"/>
<rect x="904.5" y="313.30" width="3.8" height="0.85" fill="#ff5252"/>
<rect x="909.9" y="313.30" width="3.8" height="0.85" fill="#ff5252"/>
<rect x="915.4" y="313.30" width="3.8" height="1.00" fill="#ff5252"/>
<rect x="920.8" y="313.30" width="3.8" height="1.00" fill="#ff5252"/>
<rect x="926.2" y="313.30" width="3.8" height="0.70" fill="#ffcdd2"/>
<rect x="931.6" y="313.30" width="3.8" height="0.70" fill="#ffcdd2"/>
<rect x="937.0" y="313.30" width="3.8" height="1.00" fill="#ff5252"/>
<rect x="942.4" y="313.30" width="3.8" height="1.20" fill="#ff5252"/>
<rect x="947.8" y="313.30" width="3.8" height="1.30" fill="#ff5252"/>
<rect x="953.3" y="313.30" width="3.8" height="1.00" fill="#ffcdd2"/>
<path d="M0.0 340.8 L8.3 341.3 L16.7 340.0 L25.0 337.5 L33.3 334.2 L41.7 332.5 L50.0 330.0 L58.3 326.7 L66.7 324.7 L75.0 323.0 L78.3 322.5 L83.3 325.0 L91.7 325.8 L100.0 328.0 L105.0 329.2 L110.0 332.0 L116.7 332.7 L125.0 332.5 L133.3 330.8 L141.7 328.7 L150.0 325.8 L158.3 323.0 L166.7 320.0 L175.0 317.5 L180.0 316.7 L196.7 315.0 L213.3 313.3 L230.0 311.7 L246.7 311.3 L263.3 311.3 L271.7 313.3 L280.0 315.0 L296.7 317.0 L313.3 318.3 L321.7 318.8 L330.0 318.7 L346.7 318.0 L360.0 318.0 L381.7 319.7 L401.7 316.7 L418.3 315.0 L435.0 313.0 L451.7 312.5 L468.3 310.3 L476.7 308.3 L490.0 305.5 L501.7 304.7 L518.3 303.7 L540.0 304.7 L573.3 304.7 L590.0 306.7 L606.7 308.3 L623.3 308.7 L640.0 307.0 L656.7 305.3 L668.3 305.0 L681.7 308.0 L695.0 310.3 L703.3 315.0 L711.7 317.0 L720.0 318.3 L736.7 318.0 L753.3 318.0 L778.3 318.8 L795.0 317.5 L820.0 316.7 L836.7 315.8 L853.3 313.3 L870.0 310.8 L886.7 310.0 L900.0 310.8 L925.0 312.5 L956.7 314.2" fill="none" stroke="#2196f3" stroke-width="1.15" stroke-linejoin="round"/>
<path d="M0.0 328.3 L8.3 331.7 L16.7 334.2 L25.0 335.0 L33.3 334.7 L41.7 333.7 L50.0 332.5 L58.3 330.8 L66.7 329.2 L75.0 327.5 L83.3 326.3 L91.7 326.3 L100.0 327.0 L108.3 328.3 L116.7 329.7 L125.0 330.5 L133.3 330.5 L141.7 330.0 L150.0 328.7 L158.3 327.0 L166.7 325.0 L175.0 322.5 L180.0 321.5 L196.7 318.7 L213.3 316.3 L230.0 314.2 L246.7 313.0 L263.3 312.2 L280.0 313.3 L296.7 315.3 L313.3 316.7 L330.0 317.5 L346.7 317.7 L360.0 318.3 L385.0 319.2 L401.7 318.0 L418.3 316.7 L435.0 315.0 L451.7 313.7 L468.3 312.5 L485.0 310.3 L501.7 307.5 L518.3 305.8 L540.0 305.2 L573.3 304.7 L590.0 305.3 L606.7 306.7 L623.3 307.7 L640.0 307.5 L656.7 306.7 L670.0 306.0 L681.7 306.7 L695.0 308.0 L706.7 310.8 L720.0 314.2 L728.3 315.8 L745.0 317.0 L761.7 317.5 L778.3 318.0 L795.0 317.8 L820.0 317.0 L836.7 316.7 L853.3 315.0 L870.0 313.0 L886.7 311.3 L900.0 310.8 L925.0 312.0 L956.7 313.7" fill="none" stroke="#ff6d00" stroke-width="1.15" stroke-linejoin="round"/>
<rect x="9" y="360.4" width="100" height="2" fill="#f1edf8" fill-opacity="0.85"/>
<path d="M2.3 408.5 L7.7 400.5 L13.1 398.0 L18.5 397.2 L23.9 392.5 L29.4 392.5 L34.8 390.2 L40.2 394.3 L45.6 394.3 L51.0 388.8 L56.4 384.7 L61.8 385.0 L67.3 390.5 L72.7 390.2 L78.1 385.8 L83.5 400.5 L88.9 395.5 L94.3 397.7 L99.7 401.3 L105.2 400.5 L110.6 406.8 L116.0 397.5 L121.4 398.3 L126.8 395.0 L132.2 393.0 L137.6 390.8 L143.1 390.2 L148.5 386.7 L153.9 384.7 L159.3 384.3 L164.7 385.8 L170.1 381.8 L175.5 380.2 L181.0 383.5 L186.4 384.3 L191.8 383.8 L197.2 382.5 L202.6 385.2 L208.0 385.2 L213.4 384.2 L218.8 381.0 L224.3 378.0 L229.7 373.0 L235.1 381.0 L240.5 378.8 L245.9 383.0 L251.3 380.8 L256.7 381.3 L262.2 381.0 L267.6 384.7 L273.0 399.3 L278.4 401.3 L283.8 395.5 L289.2 392.5 L294.6 393.8 L300.1 394.7 L305.5 393.5 L310.9 394.3 L316.3 396.3 L321.7 399.2 L327.1 392.2 L332.5 391.3 L338.0 394.3 L343.4 392.5 L348.8 393.0 L354.2 396.3 L359.6 397.8 L365.0 398.5 L370.4 403.0 L375.9 401.7 L381.3 405.0 L386.7 392.7 L392.1 388.0 L397.5 389.2 L402.9 380.0 L408.3 383.8 L413.8 382.2 L419.2 378.8 L424.6 375.5 L430.0 380.0 L435.4 377.5 L440.8 381.3 L446.2 380.5 L451.7 382.2 L457.1 377.2 L462.5 370.5 L467.9 366.8 L473.3 362.2 L478.7 358.8 L484.1 354.3 L489.5 353.8 L495.0 362.2 L500.4 360.5 L505.8 359.7 L511.2 357.7 L516.6 356.3 L522.0 363.8 L527.4 361.3 L532.9 360.8 L538.3 363.0 L543.7 368.0 L549.1 367.2 L554.5 360.2 L559.9 358.0 L565.3 357.7 L570.8 357.2 L576.2 355.5 L581.6 377.7 L587.0 371.7 L592.4 376.3 L597.8 381.7 L603.2 380.5 L608.7 377.2 L614.1 377.5 L619.5 373.3 L624.9 370.0 L630.3 371.3 L635.7 360.5 L641.1 363.0 L646.6 361.7 L652.0 356.7 L657.4 364.7 L662.8 360.2 L668.2 368.0 L673.6 388.3 L679.0 386.3 L684.5 384.2 L689.9 383.5 L695.3 392.2 L700.7 404.3 L706.1 400.2 L711.5 398.5 L716.9 398.3 L722.4 393.0 L727.8 392.5 L733.2 388.0 L738.6 393.0 L744.0 394.7 L749.4 393.0 L754.8 390.0 L760.2 393.3 L765.7 391.7 L771.1 396.3 L776.5 399.7 L781.9 393.0 L787.3 387.2 L792.7 386.3 L798.1 393.0 L803.6 386.8 L809.0 386.3 L814.4 387.7 L819.8 393.3 L825.2 389.3 L830.6 387.3 L836.0 388.5 L841.5 384.3 L846.9 377.7 L852.3 374.7 L857.7 372.7 L863.1 369.3 L868.5 373.3 L873.9 369.7 L879.4 374.3 L884.8 374.3 L890.2 375.8 L895.6 381.3 L901.0 384.5 L906.4 389.7 L911.8 385.5 L917.3 390.5 L922.7 388.0 L928.1 380.5 L933.5 380.8 L938.9 386.3 L944.3 390.2 L949.7 392.5 L955.2 386.3" fill="none" stroke="#7e57c2" stroke-width="1.3" stroke-linejoin="round"/>
<g opacity="0.999">
<text x="11.0" y="24.3" font-size="14.5" fill="#46474e" stroke="#46474e" stroke-width="0.25" text-anchor="start" font-weight="normal" textLength="285.0" lengthAdjust="spacingAndGlyphs">Silver US Dollars per Ounce Spot Prices, 4h</text>
<text x="307.3" y="24.3" font-size="14.5" fill="#46474e" stroke="#46474e" stroke-width="0.25" text-anchor="start" font-weight="normal" textLength="9.6" lengthAdjust="spacingAndGlyphs">O</text>
<text x="316.7" y="24.3" font-size="14.5" fill="#2c8756" stroke="#2c8756" stroke-width="0.25" text-anchor="start" font-weight="normal" textLength="35.7" lengthAdjust="spacingAndGlyphs">84.04</text>
<text x="363.3" y="24.3" font-size="14.5" fill="#46474e" stroke="#46474e" stroke-width="0.25" text-anchor="start" font-weight="normal" textLength="9.2" lengthAdjust="spacingAndGlyphs">H</text>
<text x="372.6" y="24.3" font-size="14.5" fill="#2c8756" stroke="#2c8756" stroke-width="0.25" text-anchor="start" font-weight="normal" textLength="35.7" lengthAdjust="spacingAndGlyphs">85.46</text>
<text x="419.5" y="24.3" font-size="14.5" fill="#46474e" stroke="#46474e" stroke-width="0.25" text-anchor="start" font-weight="normal" textLength="7.0" lengthAdjust="spacingAndGlyphs">L</text>
<text x="426.6" y="24.3" font-size="14.5" fill="#2c8756" stroke="#2c8756" stroke-width="0.25" text-anchor="start" font-weight="normal" textLength="35.7" lengthAdjust="spacingAndGlyphs">83.94</text>
<text x="472.7" y="24.3" font-size="14.5" fill="#46474e" stroke="#46474e" stroke-width="0.25" text-anchor="start" font-weight="normal" textLength="8.8" lengthAdjust="spacingAndGlyphs">C</text>
<text x="481.6" y="24.3" font-size="14.5" fill="#2c8756" stroke="#2c8756" stroke-width="0.25" text-anchor="start" font-weight="normal" textLength="35.3" lengthAdjust="spacingAndGlyphs">85.28</text>
<text x="527.7" y="24.3" font-size="14.5" fill="#2c8756" stroke="#2c8756" stroke-width="0.25" text-anchor="start" font-weight="normal" textLength="89.0" lengthAdjust="spacingAndGlyphs">1.24 (+1.47%)</text>
<text x="11.0" y="45.6" font-size="14.5" fill="#46474e" stroke="#46474e" stroke-width="0.25" text-anchor="start" font-weight="normal" textLength="119.5" lengthAdjust="spacingAndGlyphs">MA (200, close, 0)</text>
<text x="140.6" y="45.6" font-size="14.5" fill="#ff9800" stroke="#ff9800" stroke-width="0.25" text-anchor="start" font-weight="normal" textLength="36.1" lengthAdjust="spacingAndGlyphs">85.74</text>
<text x="11.3" y="323.3" font-size="14.5" fill="#46474e" stroke="#46474e" stroke-width="0.25" text-anchor="start" font-weight="normal" textLength="155.3" lengthAdjust="spacingAndGlyphs">MACD (12, 26, close, 9)</text>
<text x="177.0" y="323.3" font-size="14.5" fill="#ffcdd2" stroke="#ffcdd2" stroke-width="0.25" text-anchor="start" font-weight="normal" textLength="33.0" lengthAdjust="spacingAndGlyphs">-0.27</text>
<text x="220.8" y="323.3" font-size="14.5" fill="#2196f3" stroke="#2196f3" stroke-width="0.25" text-anchor="start" font-weight="normal" textLength="32.0" lengthAdjust="spacingAndGlyphs">-0.21</text>
<text x="263.8" y="323.3" font-size="14.5" fill="#ff6d00" stroke="#ff6d00" stroke-width="0.25" text-anchor="start" font-weight="normal" textLength="28.7" lengthAdjust="spacingAndGlyphs">0.06</text>
<text x="11.6" y="371.2" font-size="14.5" fill="#46474e" stroke="#46474e" stroke-width="0.25" text-anchor="start" font-weight="normal" textLength="49.5" lengthAdjust="spacingAndGlyphs">RSI (14)</text>
<text x="71.3" y="371.2" font-size="14.5" fill="#7e57c2" stroke="#7e57c2" stroke-width="0.25" text-anchor="start" font-weight="normal" textLength="35.4" lengthAdjust="spacingAndGlyphs">47.99</text>
<text x="1022.5" y="10.4" font-size="14.6" fill="#46474e" stroke="#46474e" stroke-width="0.25" text-anchor="start" font-weight="normal" textLength="44.0" lengthAdjust="spacingAndGlyphs">100.00</text>
<text x="1022.5" y="85.2" font-size="14.6" fill="#46474e" stroke="#46474e" stroke-width="0.25" text-anchor="start" font-weight="normal" textLength="36.3" lengthAdjust="spacingAndGlyphs">90.00</text>
<text x="1022.5" y="159.9" font-size="14.6" fill="#46474e" stroke="#46474e" stroke-width="0.25" text-anchor="start" font-weight="normal" textLength="36.3" lengthAdjust="spacingAndGlyphs">80.00</text>
<text x="1022.5" y="234.8" font-size="14.6" fill="#46474e" stroke="#46474e" stroke-width="0.25" text-anchor="start" font-weight="normal" textLength="36.3" lengthAdjust="spacingAndGlyphs">70.00</text>
<text x="1022.5" y="356.1" font-size="14.6" fill="#46474e" stroke="#46474e" stroke-width="0.25" text-anchor="start" font-weight="normal" textLength="36.3" lengthAdjust="spacingAndGlyphs">80.00</text>
<rect x="1013" y="338" width="65" height="8.6" fill="#ffffff"/>
<line x1="1012" y1="346.5" x2="1080" y2="346.5" stroke="#e0e3eb" stroke-width="1"/>
<text x="1022.5" y="401.2" font-size="14.6" fill="#46474e" stroke="#46474e" stroke-width="0.25" text-anchor="start" font-weight="normal" textLength="36.3" lengthAdjust="spacingAndGlyphs">40.00</text>
<path d="M1012.0 82.7 H1063.5 a2.5 2.5 0 0 1 2.5 2.5 V101.7 a2.5 2.5 0 0 1 -2.5 2.5 H1012.0 Z" fill="#ff9800"/>
<text x="1022.5" y="99.2" font-size="14.6" fill="#000" stroke="#000" stroke-width="0.4" text-anchor="start" font-weight="normal" textLength="36.2" lengthAdjust="spacingAndGlyphs">85.74</text>
<path d="M1012.0 104.2 H1063.5 a2.5 2.5 0 0 1 2.5 2.5 V123.5 a2.5 2.5 0 0 1 -2.5 2.5 H1012.0 Z" fill="#2c8756"/>
<text x="1022.5" y="120.9" font-size="14.6" fill="#fff" stroke="#fff" stroke-width="0.4" text-anchor="start" font-weight="normal" textLength="36.2" lengthAdjust="spacingAndGlyphs">85.28</text>
<rect x="1012" y="299" width="51.3" height="6" fill="#2196f3"/>
<path d="M1012.0 304.7 H1060.8 a2.5 2.5 0 0 1 2.5 2.5 V322.5 a2.5 2.5 0 0 1 -2.5 2.5 H1012.0 Z" fill="#ffcdd2"/>
<text x="1022.5" y="320.6" font-size="14.6" fill="#000" stroke="#000" stroke-width="0.4" text-anchor="start" font-weight="normal" textLength="33.3" lengthAdjust="spacingAndGlyphs">-0.27</text>
<path d="M1012.0 375.6 H1063.5 a2.5 2.5 0 0 1 2.5 2.5 V394.3 a2.5 2.5 0 0 1 -2.5 2.5 H1012.0 Z" fill="#7e57c2"/>
<text x="1022.5" y="392.0" font-size="14.6" fill="#fff" stroke="#fff" stroke-width="0.4" text-anchor="start" font-weight="normal" textLength="36.0" lengthAdjust="spacingAndGlyphs">47.99</text>
<text x="83.5" y="438.4" font-size="14.6" fill="#46474e" stroke="#46474e" stroke-width="0.25" text-anchor="middle" font-weight="normal" textLength="7.9" lengthAdjust="spacingAndGlyphs">5</text>
<text x="186.4" y="438.4" font-size="14.6" fill="#46474e" stroke="#46474e" stroke-width="0.25" text-anchor="middle" font-weight="normal" textLength="15.4" lengthAdjust="spacingAndGlyphs">10</text>
<text x="316.3" y="438.4" font-size="14.6" fill="#46474e" stroke="#46474e" stroke-width="0.25" text-anchor="middle" font-weight="normal" textLength="15.4" lengthAdjust="spacingAndGlyphs">15</text>
<text x="419.2" y="438.4" font-size="14.6" fill="#46474e" stroke="#46474e" stroke-width="0.25" text-anchor="middle" font-weight="normal" textLength="15.4" lengthAdjust="spacingAndGlyphs">19</text>
<text x="522.0" y="438.4" font-size="14.6" fill="#46474e" stroke="#46474e" stroke-width="0.25" text-anchor="middle" font-weight="normal" textLength="15.4" lengthAdjust="spacingAndGlyphs">24</text>
<text x="652.0" y="437.7" font-size="15" fill="#46474e" stroke="#46474e" stroke-width="0.6" text-anchor="middle" font-weight="normal" textLength="25.0" lengthAdjust="spacingAndGlyphs">Mar</text>
<text x="754.8" y="438.4" font-size="14.6" fill="#46474e" stroke="#46474e" stroke-width="0.25" text-anchor="middle" font-weight="normal" textLength="7.9" lengthAdjust="spacingAndGlyphs">5</text>
<text x="857.7" y="438.4" font-size="14.6" fill="#46474e" stroke="#46474e" stroke-width="0.25" text-anchor="middle" font-weight="normal" textLength="15.4" lengthAdjust="spacingAndGlyphs">10</text>
<text x="987.6" y="438.4" font-size="14.6" fill="#46474e" stroke="#46474e" stroke-width="0.25" text-anchor="middle" font-weight="normal" textLength="15.4" lengthAdjust="spacingAndGlyphs">14</text>
</g>
<circle cx="927.4" cy="410.6" r="20.2" fill="none" stroke="#b9bfd0" stroke-opacity="0.35" stroke-width="6.2"/>
<circle cx="927.4" cy="410.6" r="20.2" fill="none" stroke="#ffffff" stroke-opacity="0.9" stroke-width="5.2"/>
<path d="M938 399.5 H925 Q916.5 400 916.5 410 V417 Q916.5 426 925 426 H936 M919 414.8 H931 L938.5 401"  fill="none" stroke="#b9bfd0" stroke-opacity="0.45" stroke-width="4.2" stroke-linejoin="round" stroke-linecap="round"/>
<path d="M938 399.5 H925 Q916.5 400 916.5 410 V417 Q916.5 426 925 426 H936 M919 414.8 H931 L938.5 401"  fill="none" stroke="#ffffff" stroke-opacity="0.92" stroke-width="3.2" stroke-linejoin="round" stroke-linecap="round"/>
<path d="M6 1 L2 7 M4 5 V11 M14 3 L9 6.5 M10 1 V8 Q10 9.5 12 9.5 H17 V7 M1 14 H19 M10 11 V21" transform="translate(955.5 394.2) scale(1.0 1.0)" fill="none" stroke="#b9bfd0" stroke-opacity="0.45" stroke-width="3.3" stroke-linejoin="round" stroke-linecap="round"/>
<path d="M6 1 L2 7 M4 5 V11 M14 3 L9 6.5 M10 1 V8 Q10 9.5 12 9.5 H17 V7 M1 14 H19 M10 11 V21" transform="translate(955.5 394.2) scale(1.0 1.0)" fill="none" stroke="#ffffff" stroke-opacity="0.92" stroke-width="2.3" stroke-linejoin="round" stroke-linecap="round"/>
<path d="M3 2 L5 4 M1 8 H4.5 V15 M1 19 Q4 16 7 18.5 H19 M8 2 H17 L13 5 M8 6.5 H18 V16.5 M8 6.5 V16.5 M8 10 H18 M8 13.3 H18 M13 6.5 V16.5" transform="translate(977.4 394.2) scale(1.0 1.0)" fill="none" stroke="#b9bfd0" stroke-opacity="0.45" stroke-width="3.3" stroke-linejoin="round" stroke-linecap="round"/>
<path d="M3 2 L5 4 M1 8 H4.5 V15 M1 19 Q4 16 7 18.5 H19 M8 2 H17 L13 5 M8 6.5 H18 V16.5 M8 6.5 V16.5 M8 10 H18 M8 13.3 H18 M13 6.5 V16.5" transform="translate(977.4 394.2) scale(1.0 1.0)" fill="none" stroke="#ffffff" stroke-opacity="0.92" stroke-width="2.3" stroke-linejoin="round" stroke-linecap="round"/>
<path d="M10.5 0.5 L8.5 4.5 M3 4.5 H17 V20 H3 Z M3 12 H17" transform="translate(999.3 394.2) scale(1.0 1.0)" fill="none" stroke="#b9bfd0" stroke-opacity="0.45" stroke-width="3.3" stroke-linejoin="round" stroke-linecap="round"/>
<path d="M10.5 0.5 L8.5 4.5 M3 4.5 H17 V20 H3 Z M3 12 H17" transform="translate(999.3 394.2) scale(1.0 1.0)" fill="none" stroke="#ffffff" stroke-opacity="0.92" stroke-width="2.3" stroke-linejoin="round" stroke-linecap="round"/>
<path d="M5 1 L1 6.5 M3.5 5 H8.5 M2 9.5 H8.5 M1 14 H8.5 M5 9.5 V20 L8.5 17 M11 2 H18 V9.5 H11 M11 2 V20 L14.5 17.5 M11 5.8 H18 M14 10 L19 20 M19 11.5 L15.5 14.5" transform="translate(1021.2 394.2) scale(1.0 1.0)" fill="none" stroke="#b9bfd0" stroke-opacity="0.45" stroke-width="3.3" stroke-linejoin="round" stroke-linecap="round"/>
<path d="M5 1 L1 6.5 M3.5 5 H8.5 M2 9.5 H8.5 M1 14 H8.5 M5 9.5 V20 L8.5 17 M11 2 H18 V9.5 H11 M11 2 V20 L14.5 17.5 M11 5.8 H18 M14 10 L19 20 M19 11.5 L15.5 14.5" transform="translate(1021.2 394.2) scale(1.0 1.0)" fill="none" stroke="#ffffff" stroke-opacity="0.92" stroke-width="2.3" stroke-linejoin="round" stroke-linecap="round"/>
<path d="M2 2 V21 M2 2 H18 V19.5 L16 21 M5 6 L9 15 M9 6 L5 15 M11 6 L15 15 M15 6 L11 15" transform="translate(1043.1 394.2) scale(1.0 1.0)" fill="none" stroke="#b9bfd0" stroke-opacity="0.45" stroke-width="3.3" stroke-linejoin="round" stroke-linecap="round"/>
<path d="M2 2 V21 M2 2 H18 V19.5 L16 21 M5 6 L9 15 M9 6 L5 15 M11 6 L15 15 M15 6 L11 15" transform="translate(1043.1 394.2) scale(1.0 1.0)" fill="none" stroke="#ffffff" stroke-opacity="0.92" stroke-width="2.3" stroke-linejoin="round" stroke-linecap="round"/>
<text x="956" y="430" font-size="13.2" font-weight="bold" font-style="italic" fill="#ffffff" fill-opacity="0.88" stroke="#aab4d8" stroke-opacity="0.4" stroke-width="0.8" paint-order="stroke" textLength="108" lengthAdjust="spacingAndGlyphs">www.cbaiyin.com</text>
</svg>
</body></html>
